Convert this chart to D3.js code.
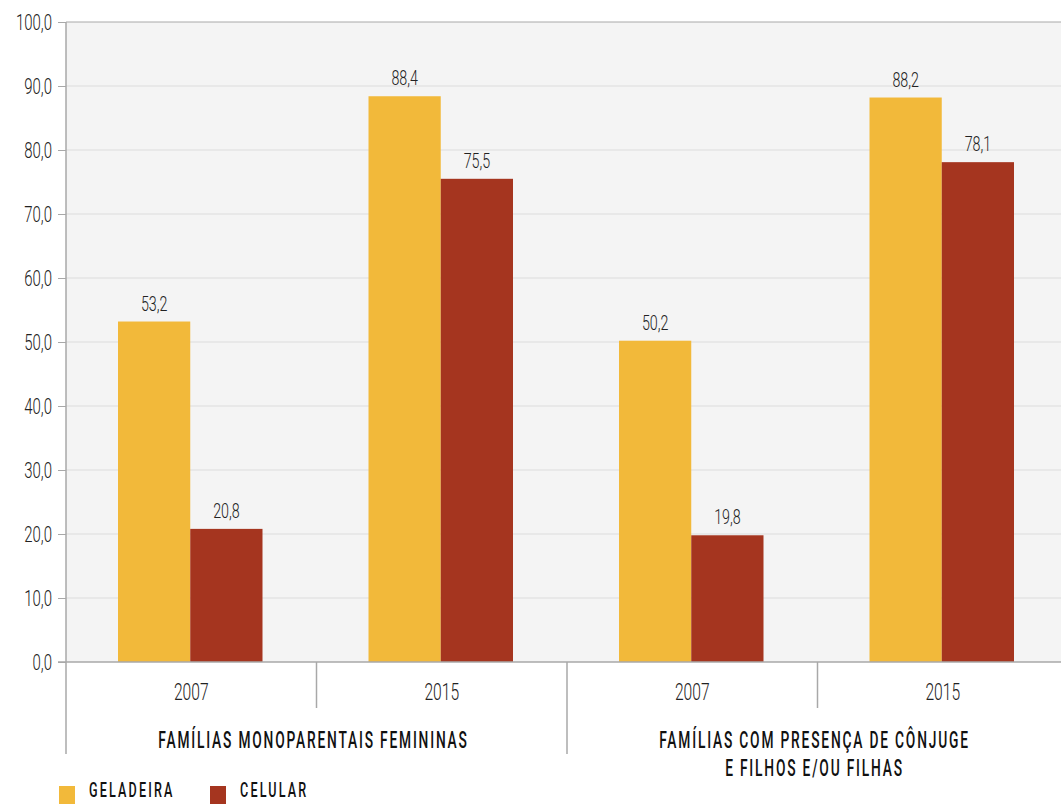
<!DOCTYPE html>
<html>
<head>
<meta charset="utf-8">
<script src="https://cdn.jsdelivr.net/npm/d3@7"></script>
<style>
  body { margin: 0; background: #fff; }
  text { font-family: Roboto, "Liberation Sans", sans-serif; }
</style>
</head>
<body>
<script>
// data
var groups = ["FAMÍLIAS MONOPARENTAIS FEMININAS", "FAMÍLIAS COM PRESENÇA DE CÔNJUGE\nE FILHOS E/OU FILHAS"];
var years = ["2007", "2015"];
var series = ["GELADEIRA", "CELULAR"];
var geladeira = [53.2, 88.4, 50.2, 88.2];
var celular = [20.8, 75.5, 19.8, 78.1];
var yTicks = [0, 10, 20, 30, 40, 50, 60, 70, 80, 90, 100];
var colors = ["#F2B93A", "#A5351F"];

var width = 1061, height = 804;
var margin = {top: 22, left: 66, bottom: 142};
var plotRight = 1068;

// the original uses a narrow font; squeeze Roboto horizontally instead
var numScale = 0.68, capScale = 0.6;
var fmt = function(v) { return d3.format(".1f")(v).replace(".", ","); };

function squeezed(parent, x, y, sx) {
  return parent.append("g")
    .attr("transform", "translate(" + x + "," + y + ") scale(" + sx + ",1)")
    .append("text");
}

var svg = d3.select("body").append("svg")
  .attr("width", width)
  .attr("height", height);

// one slot per group/year pair
var slots = [];
groups.forEach(function(g, gi) {
  years.forEach(function(yr, yi) {
    var i = gi * years.length + yi;
    slots.push({key: i, group: gi, year: yr, values: [geladeira[i], celular[i]]});
  });
});

var x = d3.scaleBand()
  .domain(slots.map(function(d) { return d.key; }))
  .range([margin.left, plotRight]);

var xInner = d3.scaleBand()
  .domain(series)
  .range([52, x.bandwidth() - 54]);

var y = d3.scaleLinear()
  .domain([0, 100])
  .range([height - margin.bottom, margin.top]);

// plot background
svg.append("rect")
  .attr("x", margin.left)
  .attr("y", y(100))
  .attr("width", plotRight - margin.left)
  .attr("height", y(0) - y(100))
  .attr("fill", "#f4f4f4");

// gridlines
svg.append("g").selectAll("line")
  .data(yTicks.filter(function(t) { return t > 0 && t < 100; }))
  .join("line")
    .attr("x1", margin.left).attr("x2", plotRight)
    .attr("y1", function(d) { return y(d); })
    .attr("y2", function(d) { return y(d); })
    .attr("stroke", "#dcdcdc")
    .attr("stroke-width", 1);

svg.append("line")
  .attr("x1", margin.left).attr("x2", plotRight)
  .attr("y1", y(100)).attr("y2", y(100))
  .attr("stroke", "#a8a8a8");

// y axis: ticks from d3, labels drawn squeezed
var yAxis = d3.axisLeft(y)
  .tickValues(yTicks)
  .tickSize(8)
  .tickFormat("");

var gy = svg.append("g")
  .attr("transform", "translate(" + margin.left + ",0)")
  .call(yAxis);
gy.select(".domain").remove();
gy.selectAll(".tick line").attr("stroke", "#a8a8a8");

yTicks.forEach(function(t) {
  squeezed(svg, 52, y(t) + 8, numScale)
    .attr("text-anchor", "end")
    .attr("font-size", 22)
    .attr("font-weight", 300)
    .attr("fill", "#222")
    .text(fmt(t));
});

// bars
var slotG = svg.append("g").selectAll("g")
  .data(slots)
  .join("g")
    .attr("transform", function(d) { return "translate(" + x(d.key) + ",0)"; });

slotG.selectAll("rect")
  .data(function(d) { return d.values.map(function(v, i) { return {name: series[i], value: v, i: i}; }); })
  .join("rect")
    .attr("x", function(d) { return xInner(d.name); })
    .attr("width", xInner.bandwidth())
    .attr("y", function(d) { return y(d.value); })
    .attr("height", function(d) { return y(0) - y(d.value); })
    .attr("fill", function(d) { return colors[d.i]; });

// value labels
slots.forEach(function(s) {
  s.values.forEach(function(v, i) {
    squeezed(svg, x(s.key) + xInner(series[i]) + xInner.bandwidth() / 2, y(v) - 11, numScale)
      .attr("text-anchor", "middle")
      .attr("font-size", 21)
      .attr("font-weight", 300)
      .attr("fill", "#222")
      .text(fmt(v));
  });
});

// baseline
svg.append("line")
  .attr("x1", margin.left - 8).attr("x2", plotRight)
  .attr("y1", y(0)).attr("y2", y(0))
  .attr("stroke", "#a8a8a8").attr("stroke-width", 1.5);

// left axis line and separators
svg.append("line")
  .attr("x1", margin.left).attr("x2", margin.left)
  .attr("y1", y(100)).attr("y2", 754)
  .attr("stroke", "#a8a8a8").attr("stroke-width", 1.5);

slots.forEach(function(d, i) {
  if (i === 0) return;
  var isGroupEdge = i % years.length === 0;
  svg.append("line")
    .attr("x1", x(d.key)).attr("x2", x(d.key))
    .attr("y1", y(0)).attr("y2", isGroupEdge ? 754 : 708)
    .attr("stroke", "#a8a8a8").attr("stroke-width", 1.5);
});

// year labels
slots.forEach(function(d) {
  squeezed(svg, x(d.key) + x.bandwidth() / 2, 700, numScale)
    .attr("text-anchor", "middle")
    .attr("font-size", 23)
    .attr("font-weight", 300)
    .attr("fill", "#222")
    .text(d.year);
});

// group labels
groups.forEach(function(g, gi) {
  var cx = x(gi * years.length) + x.bandwidth() - 3;
  g.split("\n").forEach(function(line, li) {
    squeezed(svg, cx, 748 + li * 28, capScale)
      .attr("text-anchor", "middle")
      .attr("font-size", 23)
      .attr("font-weight", 500)
      .attr("letter-spacing", 3)
      .attr("fill", "#111")
      .text(line);
  });
});

// legend
series.forEach(function(s, i) {
  var lx = 59 + i * 151;
  svg.append("rect")
    .attr("x", lx).attr("y", 786)
    .attr("width", 16).attr("height", 18)
    .attr("fill", colors[i]);
  squeezed(svg, lx + 30, 797, capScale)
    .attr("font-size", 21)
    .attr("font-weight", 500)
    .attr("letter-spacing", 3.6)
    .attr("fill", "#111")
    .text(s);
});
</script>
</body>
</html>
